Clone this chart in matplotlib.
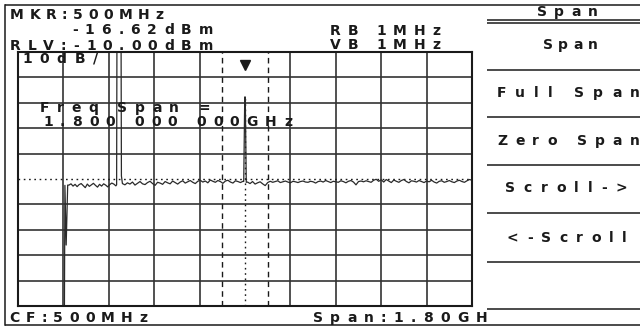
#=========================================================================
# spectrum-screen-plot.py
#=========================================================================

import matplotlib
matplotlib.use( 'Agg' )
import matplotlib.pyplot as plt
from matplotlib.font_manager import FontProperties
from matplotlib.textpath import TextToPath
import numpy as np

#-------------------------------------------------------------------------
# Get data
#-------------------------------------------------------------------------

center_mhz  = 500.0
span_mhz    = 1800.0
ref_dbm     = -10.0
db_per_div  = 10.0
marker_mhz  = 500.0
marker_dbm  = -16.62

# Left edge of trace (below screen, then rising into the noise floor)

lead_mhz = [ -400, -216, -214, -209, -203 ]
lead_dbm = [ -112, -112, -62.5, -86.0, -62.4 ]

# Noise floor below the zero-Hz feedthrough

noise_b_range = ( -198, -12 )
noise_b = [
  -62.4, -61.9, -62.8, -62.1, -63.0, -62.2, -61.8, -62.6, -63.4, -62.0,
  -62.9, -62.3, -61.7, -62.5, -63.2, -62.1, -62.8, -61.9, -62.4, -63.1,
  -62.2, -61.6, -62.0, -62.7,
]

# Zero-Hz feedthrough (goes above the top of the screen)

spike_mhz = [ -9.0, -7.5, 8.4, 10.0 ]
spike_dbm = [ -62.3, 5.0, 5.0, -58.8 ]

noise_c_range = ( 14, 492 )
noise_c = [
  -61.8, -62.3, -61.5, -62.0, -61.2, -62.4, -61.7, -61.0, -61.9, -62.2,
  -61.4, -60.9, -61.8, -62.5, -61.3, -61.6, -62.1, -61.0, -61.5, -61.9,
  -60.8, -61.4, -62.0, -61.2, -60.7, -61.6, -61.1, -60.6, -61.3, -61.8,
  -60.9, -60.5, -61.2, -60.8, -61.5, -60.4, -60.9, -61.3, -60.6, -61.0,
  -61.7, -60.8, -60.5, -61.2, -61.6, -60.7, -61.0, -61.4, -60.9,
]

# Signal at the marker

peak_mhz = [ 495, 499, 501, 505 ]
peak_dbm = [ -61.0, -27.7, -27.7, -61.3 ]

noise_d_range = ( 510, 1400 )
noise_d = [
  -61.2, -61.8, -61.0, -62.0, -61.5, -61.1, -61.9, -62.6, -61.4, -60.9,
  -61.3, -61.0, -60.7, -61.4, -61.1, -60.8, -61.2, -61.5, -60.9, -61.1,
  -61.4, -61.0, -60.8, -61.2, -61.3, -60.9, -61.1, -61.6, -61.0, -60.8,
  -61.2, -60.6, -61.0, -61.4, -60.9, -61.1, -61.3, -60.7, -61.0, -61.5,
  -60.9, -60.6, -61.2, -62.3, -61.0, -60.8, -61.1, -60.7, -61.0, -61.3,
  -60.5, -60.1, -60.9, -60.3, -61.2, -60.2, -60.8, -61.4, -60.4, -60.9,
  -61.3, -60.6, -60.2, -61.0, -61.5, -60.7, -60.9, -61.2, -60.6, -61.0,
  -61.4, -60.8, -61.1, -60.5, -61.2, -61.6, -60.9, -60.7, -61.3, -61.0,
  -60.6, -61.1, -61.4, -60.8, -60.5, -61.0, -61.3, -60.7, -60.2, -60.5,
]

# Screen labels

mkr_label   = 'MKR:500MHz'
amp_label   = '-16.62dBm'
rlv_label   = 'RLV:-10.00dBm'
rb_label    = 'RB 1MHz'
vb_label    = 'VB 1MHz'
scale_label = '10dB/'
msg_lines   = [ 'Freq Span =', '1.800 000 000GHz' ]
cf_label    = 'CF:500MHz'
span_label  = 'Span:1.80GH'
menu_title  = 'Span'
menu_items  = [ 'Span', 'Full Span', 'Zero Span', 'Scroll->', '<-Scroll' ]

#-------------------------------------------------------------------------
# Build trace
#-------------------------------------------------------------------------

def seg( rng, vals ):
  return list( np.linspace( rng[0], rng[1], len( vals ) ) ), list( vals )

trace_mhz = []
trace_dbm = []
for f, d in [ ( lead_mhz, lead_dbm ), seg( noise_b_range, noise_b ),
              ( spike_mhz, spike_dbm ), seg( noise_c_range, noise_c ),
              ( peak_mhz, peak_dbm ), seg( noise_d_range, noise_d ) ]:
  trace_mhz += list( f )
  trace_dbm += list( d )

f_lo = center_mhz - span_mhz / 2
f_hi = center_mhz + span_mhz / 2
a_lo = ref_dbm - 10 * db_per_div

#-------------------------------------------------------------------------
# Create plot
#-------------------------------------------------------------------------

W, H = 640, 329
fig = plt.figure( figsize=( W / 100.0, H / 100.0 ), dpi=100 )
fig.patch.set_facecolor( 'white' )

ink  = '#1a1a1a'
grid = '#333333'

# Graticule axes (pixel box 18..472 x 52..306)

ax = fig.add_axes( [ 18.0 / W, ( H - 306.0 ) / H, 454.0 / W, 254.0 / H ] )
ax.set_xlim( f_lo, f_hi )
ax.set_ylim( a_lo, ref_dbm )
ax.set_xticks( [] )
ax.set_yticks( [] )
for s in ax.spines.values():
  s.set_linewidth( 1.5 )
  s.set_color( ink )

fdiv = span_mhz / 10
for k in range( 1, 10 ):
  fx = f_lo + k * fdiv
  ay = ref_dbm - k * db_per_div
  if k != 5:
    ax.axvline( fx, color=grid, lw=1.2 )
    ax.axhline( ay, color=grid, lw=1.2 )

# Display line and centre line (dotted), marker window (dashed)

ax.axhline( ref_dbm - 5 * db_per_div, color=ink, lw=1.0, ls=( 0, ( 1.2, 2.6 ) ) )
ax.vlines( center_mhz, a_lo, peak_dbm[1], color=ink, lw=1.0, ls=( 0, ( 1.2, 2.6 ) ) )
for fx in [ center_mhz - fdiv / 2, center_mhz + fdiv / 2 ]:
  ax.axvline( fx, color=ink, lw=1.0, ls=( 0, ( 4, 3 ) ) )

# Trace

ax.plot( trace_mhz, trace_dbm, color='#2a2a2a', lw=0.9 )

# Marker

ax.plot( marker_mhz, marker_dbm + 1.4, marker='v', ms=7, color=ink )

# Overlay axes in screen pixels for frame and text

ov = fig.add_axes( [ 0, 0, 1, 1 ] )
ov.set_xlim( 0, W )
ov.set_ylim( H, 0 )
ov.axis( 'off' )

def hline( y, x0, x1, lw=1.1 ):
  ov.plot( [ x0, x1 ], [ y, y ], color=ink, lw=lw, solid_capstyle='butt' )

hline( 5, 5, W )
hline( 325, 5, W )
ov.plot( [ 5, 5 ], [ 5, 325 ], color=ink, lw=1.1 )

for y in [ 20, 22.5, 70, 117, 165, 213, 262, 309 ]:
  hline( y, 487, W )

# Screen font: proportional glyphs with wide letter spacing, fitted
# between the left and right pixel extents read from the screen

font_pt = 10
fprop   = FontProperties( family='DejaVu Sans', weight='bold', size=font_pt )
t2p     = TextToPath()

def glyph_px( ch ):
  if ch == ' ':
    return 0.32 * font_pt * 100 / 72.0
  w, h, d = t2p.get_text_width_height_descent( ch, fprop, ismath=False )
  return w * 100 / 72.0

def screen_text( xl, xr, y, s ):
  ws    = [ glyph_px( ch ) for ch in s ]
  track = ( ( xr - xl ) - sum( ws ) ) / max( len( s ) - 1, 1 )
  x = xl
  for ch, w in zip( s, ws ):
    if ch != ' ':
      ov.text( x, y, ch, ha='left', va='baseline', fontproperties=fprop,
               color=ink )
    x += w + track

screen_text( 10, 163, 19, mkr_label )
screen_text( 72, 213, 34, amp_label )
screen_text( 10, 213, 50, rlv_label )
screen_text( 330, 440, 35, rb_label )
screen_text( 330, 440, 49, vb_label )
screen_text( 22, 98, 63, scale_label )
screen_text( 40, 210, 112, msg_lines[0] )
screen_text( 43, 292, 126, msg_lines[1] )
screen_text( 9, 147, 322, cf_label )
screen_text( 313, 487, 322, span_label )

screen_text( 537, 598, 16, menu_title )
menu_xl = [ 543, 497, 497, 505, 507 ]
menu_xr = [ 598, 640, 640, 627, 627 ]
menu_y  = [ 49, 97, 145, 192, 242 ]
for s, xl, xr, y in zip( menu_items, menu_xl, menu_xr, menu_y ):
  screen_text( xl, xr, y, s )

#-------------------------------------------------------------------------
# Generate PNG
#-------------------------------------------------------------------------

fig.savefig( 'out.png', dpi=100 )
